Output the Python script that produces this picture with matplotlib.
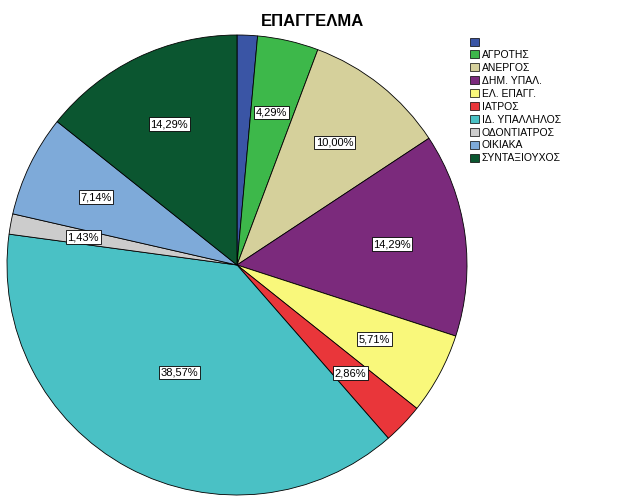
import matplotlib
matplotlib.use("Agg")
import matplotlib.pyplot as plt
from matplotlib.patches import Patch
import numpy as np

plt.rcParams['font.family'] = ['Liberation Sans', 'DejaVu Sans']

categories = ["", "ΑΓΡΟΤΗΣ", "ΑΝΕΡΓΟΣ", "ΔΗΜ. ΥΠΑΛ.", "ΕΛ. ΕΠΑΓΓ.", "ΙΑΤΡΟΣ",
              "ΙΔ. ΥΠΑΛΛΗΛΟΣ", "ΟΔΟΝΤΙΑΤΡΟΣ", "ΟΙΚΙΑΚΑ", "ΣΥΝΤΑΞΙΟΥΧΟΣ"]
counts = [1, 3, 7, 10, 4, 2, 27, 1, 5, 10]
colors = ["#3a55a5", "#3db84a", "#d5d09b", "#7b2a7c", "#f9f87b", "#e9363a",
          "#4ac1c5", "#cccccc", "#7eaad9", "#0b5630"]

W, H = 626, 501
fig = plt.figure(figsize=(W / 100, H / 100), dpi=100)
cx, cy, r = 237, 265, 230
ax = fig.add_axes([(cx - r) / W, (H - cy - r) / H, 2 * r / W, 2 * r / H])

total = sum(counts)
wedges, _ = ax.pie(counts, colors=colors, startangle=90, counterclock=False,
                   wedgeprops=dict(edgecolor="black", linewidth=0.6))
ax.set_xlim(-1, 1)
ax.set_ylim(-1, 1)
ax.set_aspect("equal")

for i, (w, c) in enumerate(zip(wedges, counts)):
    if categories[i] == "":
        continue
    ang = np.deg2rad((w.theta1 + w.theta2) / 2)
    d = 0.53 if c == 27 else 0.68
    txt = f"{c / total * 100:.2f}%".replace(".", ",")
    ax.text(d * np.cos(ang), d * np.sin(ang), txt, ha="center", va="center",
            fontsize=8,
            bbox=dict(boxstyle="square,pad=0.15", facecolor="white",
                      edgecolor="black", linewidth=0.6))

fig.text(313 / W, 1 - 22 / H, "ΕΠΑΓΓΕΛΜΑ", ha="center", va="center",
         fontsize=12, fontweight="bold")

handles = [Patch(facecolor=col, edgecolor="black", linewidth=0.5) for col in colors]
fig.legend(handles, categories, loc="upper left",
           bbox_to_anchor=(466 / W, 1 - 33 / H), frameon=False,
           fontsize=7.5, handlelength=0.8, handleheight=0.8,
           handletextpad=0.3, labelspacing=0.28, borderaxespad=0)

fig.savefig("out.png", dpi=100)
